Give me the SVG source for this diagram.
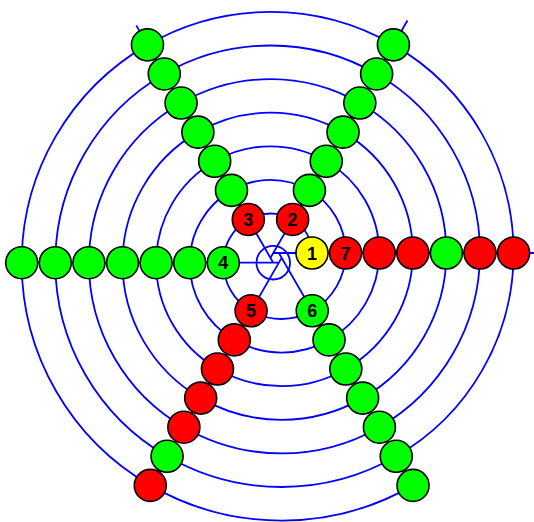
<svg xmlns="http://www.w3.org/2000/svg" width="534" height="522" viewBox="0 0 534 522">
<style>
.ln{fill:none;stroke:#0000ff;stroke-width:1.8}
.b circle{stroke:#000;stroke-width:1.6}
.r{fill:#ff0000}.g{fill:#00ff00}.y{fill:#ffff00}
.t{font-family:"Liberation Sans",Arial,sans-serif;font-weight:bold;font-size:18px;text-anchor:middle;fill:#000}
</style>
<rect width="534" height="522" fill="#fff"/>
<g id="connectors">
<circle class="ln" cx="273.25" cy="262.7" r="16.8"/>
<path class="ln" d="M273.25 253H547.25M270.45 257.85L407.45 20.56M273.25 262.7L136.25 25.41M278.85 262.7H4.85M281.65 257.85L144.65 495.14M278.85 253L415.85 490.29"/>
<path class="ln" d="M312 253A38.75 38.75 0 0 0 292.63 219.44A44.35 44.35 0 0 0 248.28 219.44A49.95 49.95 0 0 0 223.3 262.7A55.55 55.55 0 0 0 251.08 310.81A61.15 61.15 0 0 0 312.23 310.81A66.75 66.75 0 0 0 345.6 253A72.35 72.35 0 0 0 309.43 190.34A77.95 77.95 0 0 0 231.48 190.35A83.55 83.55 0 0 0 189.7 262.7A89.15 89.15 0 0 0 234.28 339.9A94.75 94.75 0 0 0 329.03 339.9A100.35 100.35 0 0 0 379.2 253A105.95 105.95 0 0 0 326.23 161.25A111.55 111.55 0 0 0 214.68 161.25A117.15 117.15 0 0 0 156.1 262.7A122.75 122.75 0 0 0 217.48 369A128.35 128.35 0 0 0 345.83 369A133.95 133.95 0 0 0 412.8 253A139.55 139.55 0 0 0 343.03 132.15A145.15 145.15 0 0 0 197.88 132.15A150.75 150.75 0 0 0 122.5 262.7A156.35 156.35 0 0 0 200.68 398.1A161.95 161.95 0 0 0 362.63 398.1A167.55 167.55 0 0 0 446.4 253A173.15 173.15 0 0 0 359.83 103.05A178.75 178.75 0 0 0 181.08 103.05A184.35 184.35 0 0 0 88.9 262.7A189.95 189.95 0 0 0 183.88 427.2A195.55 195.55 0 0 0 379.43 427.2A201.15 201.15 0 0 0 480 253A206.75 206.75 0 0 0 376.63 73.95A212.35 212.35 0 0 0 164.28 73.95A217.95 217.95 0 0 0 55.3 262.7A223.55 223.55 0 0 0 167.08 456.3A229.15 229.15 0 0 0 396.23 456.3A234.75 234.75 0 0 0 513.6 253A240.35 240.35 0 0 0 393.43 44.85A245.95 245.95 0 0 0 147.48 44.85A251.55 251.55 0 0 0 21.7 262.7A257.15 257.15 0 0 0 150.28 485.4A262.75 262.75 0 0 0 413.03 485.4"/>
</g>
<g class="b">
<g id="n1"><circle class="y" cx="312" cy="253" r="16"/><text class="t" x="312" y="259.5">1</text></g>
<g id="n2"><circle class="r" cx="292.63" cy="219.44" r="16"/><text class="t" x="292.63" y="225.94">2</text></g>
<g id="n3"><circle class="r" cx="248.28" cy="219.44" r="16"/><text class="t" x="248.28" y="225.94">3</text></g>
<g id="n4"><circle class="g" cx="223.3" cy="262.7" r="16"/><text class="t" x="223.3" y="269.2">4</text></g>
<g id="n5"><circle class="r" cx="251.08" cy="310.81" r="16"/><text class="t" x="251.08" y="317.31">5</text></g>
<g id="n6"><circle class="g" cx="312.23" cy="310.81" r="16"/><text class="t" x="312.23" y="317.31">6</text></g>
<g id="n7"><circle class="r" cx="345.6" cy="253" r="16"/><text class="t" x="345.6" y="259.5">7</text></g>
<g id="n8"><circle class="g" cx="309.43" cy="190.34" r="16"/></g>
<g id="n9"><circle class="g" cx="231.48" cy="190.35" r="16"/></g>
<g id="n10"><circle class="g" cx="189.7" cy="262.7" r="16"/></g>
<g id="n11"><circle class="r" cx="234.28" cy="339.9" r="16"/></g>
<g id="n12"><circle class="g" cx="329.03" cy="339.9" r="16"/></g>
<g id="n13"><circle class="r" cx="379.2" cy="253" r="16"/></g>
<g id="n14"><circle class="g" cx="326.23" cy="161.25" r="16"/></g>
<g id="n15"><circle class="g" cx="214.68" cy="161.25" r="16"/></g>
<g id="n16"><circle class="g" cx="156.1" cy="262.7" r="16"/></g>
<g id="n17"><circle class="r" cx="217.48" cy="369" r="16"/></g>
<g id="n18"><circle class="g" cx="345.83" cy="369" r="16"/></g>
<g id="n19"><circle class="r" cx="412.8" cy="253" r="16"/></g>
<g id="n20"><circle class="g" cx="343.03" cy="132.15" r="16"/></g>
<g id="n21"><circle class="g" cx="197.88" cy="132.15" r="16"/></g>
<g id="n22"><circle class="g" cx="122.5" cy="262.7" r="16"/></g>
<g id="n23"><circle class="r" cx="200.68" cy="398.1" r="16"/></g>
<g id="n24"><circle class="g" cx="362.63" cy="398.1" r="16"/></g>
<g id="n25"><circle class="g" cx="446.4" cy="253" r="16"/></g>
<g id="n26"><circle class="g" cx="359.83" cy="103.05" r="16"/></g>
<g id="n27"><circle class="g" cx="181.08" cy="103.05" r="16"/></g>
<g id="n28"><circle class="g" cx="88.9" cy="262.7" r="16"/></g>
<g id="n29"><circle class="r" cx="183.88" cy="427.2" r="16"/></g>
<g id="n30"><circle class="g" cx="379.43" cy="427.2" r="16"/></g>
<g id="n31"><circle class="r" cx="480" cy="253" r="16"/></g>
<g id="n32"><circle class="g" cx="376.63" cy="73.95" r="16"/></g>
<g id="n33"><circle class="g" cx="164.28" cy="73.95" r="16"/></g>
<g id="n34"><circle class="g" cx="55.3" cy="262.7" r="16"/></g>
<g id="n35"><circle class="g" cx="167.08" cy="456.3" r="16"/></g>
<g id="n36"><circle class="g" cx="396.23" cy="456.3" r="16"/></g>
<g id="n37"><circle class="r" cx="513.6" cy="253" r="16"/></g>
<g id="n38"><circle class="g" cx="393.43" cy="44.85" r="16"/></g>
<g id="n39"><circle class="g" cx="147.48" cy="44.85" r="16"/></g>
<g id="n40"><circle class="g" cx="21.7" cy="262.7" r="16"/></g>
<g id="n41"><circle class="r" cx="150.28" cy="485.4" r="16"/></g>
<g id="n42"><circle class="g" cx="413.03" cy="485.4" r="16"/></g>
</g>
</svg>
